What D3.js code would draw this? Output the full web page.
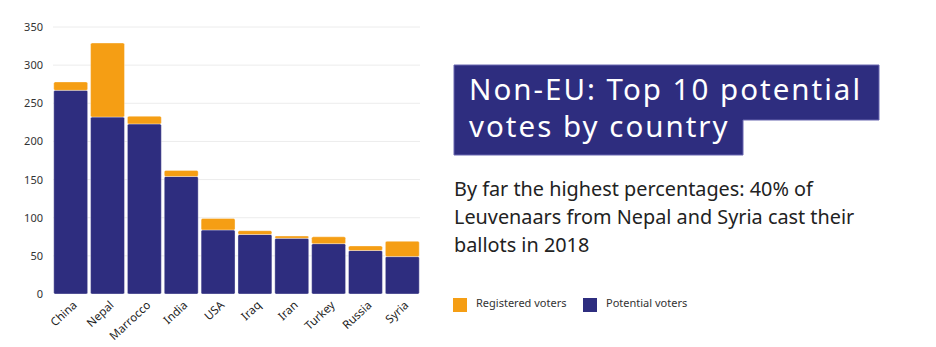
<!DOCTYPE html>
<html>
<head>
<meta charset="utf-8">
<script src="https://cdn.jsdelivr.net/npm/d3@7"></script>
<style>
  body { margin: 0; background: #fff; }
  svg { display: block; font-family: "Noto Sans", sans-serif; }
</style>
</head>
<body>
<script>
// top 10 non-EU countries, potential vs registered voters (2018)
const countries = ['China', 'Nepal', 'Marrocco', 'India', 'USA', 'Iraq', 'Iran', 'Turkey', 'Russia', 'Syria']
const potential = [267, 232, 223, 154, 84, 78, 73, 66, 57, 49]
const registered = [11, 97, 10, 8, 15, 5, 3, 9, 6, 20]
const yTicks = [0, 50, 100, 150, 200, 250, 300, 350]

const blue = '#2e2d7f'
const orange = '#f59e14'
const font = '"Noto Sans", sans-serif'

var width = 936,
    height = 347

var svg = d3.select('body').append('svg')
    .attr('width', width)
    .attr('height', height)

var x = d3.scaleBand()
    .domain(countries)
    .range([53, 420])
    .paddingInner(0.08)
    .paddingOuter(0.02)

var y = d3.scaleLinear()
    .domain([0, 350])
    .range([294, 27])

// gridlines
svg.append('g')
  .selectAll('line')
  .data(yTicks.slice(1))
  .enter().append('line')
    .attr('x1', 53)
    .attr('x2', 420)
    .attr('y1', d => y(d))
    .attr('y2', d => y(d))
    .attr('stroke', '#ececec')
    .attr('stroke-width', 1)

// y axis, labels only
var yAxis = svg.append('g')
    .attr('transform', 'translate(53,0)')
    .call(d3.axisLeft(y).tickValues(yTicks).tickSize(0).tickPadding(10))
yAxis.select('.domain').remove()
yAxis.selectAll('text')
    .attr('font-size', 11)
    .attr('fill', '#333')
    .attr('font-family', font)

var rows = countries.map((c, i) => ({ country: c, potential: potential[i], registered: registered[i] }))
var stacked = d3.stack().keys(['potential', 'registered'])(rows)
var colors = { potential: blue, registered: orange }

var bars = svg.append('g')
bars.selectAll('g')
  .data(stacked)
  .enter().append('g')
    .attr('fill', d => colors[d.key])
  .selectAll('rect')
  .data(d => d)
  .enter().append('rect')
    .attr('x', d => x(d.data.country))
    .attr('y', d => y(d[1]))
    .attr('width', x.bandwidth())
    .attr('height', d => y(d[0]) - y(d[1]))
    .attr('rx', 1.5)
    .attr('stroke', 'rgba(255,255,255,0.35)')
    .attr('stroke-width', 1)

// x axis labels, rotated
var xAxis = svg.append('g')
    .attr('transform', 'translate(0,294)')
    .call(d3.axisBottom(x).tickSize(0).tickPadding(0))
xAxis.select('.domain').remove()
xAxis.selectAll('text')
    .attr('font-size', 11.5)
    .attr('fill', '#222')
    .attr('font-family', font)
    .attr('text-anchor', 'end')
    .attr('dy', null)
    .attr('transform', 'translate(7,12) rotate(-43)')

// size a block of lines so its first line spans the given width
function fitLines(sel, target) {
  var first = sel.node()
  var size = +first.getAttribute('font-size')
  var w = first.getComputedTextLength()
  sel.attr('font-size', size * target / w)
}

// widen the letter spacing instead, keeping the font size
function spreadLines(sel, target) {
  var first = sel.node()
  var n = first.textContent.length
  var w = first.getComputedTextLength()
  sel.attr('letter-spacing', (target - w) / n)
}

// title block
var title = svg.append('g')
title.append('path')
    .attr('d', 'M454,65H879V120H743V155H454Z')
    .attr('fill', blue)
    .attr('stroke', '#6866b0')
    .attr('stroke-width', 1)
var titleText = title.selectAll('text')
  .data(['Non-EU: Top 10 potential', 'votes by country'])
  .enter().append('text')
    .attr('x', 469)
    .attr('y', (d, i) => 100 + i * 37)
    .attr('fill', '#fff')
    .attr('font-size', 29.5)
    .attr('font-family', font)
    .text(d => d)
spreadLines(titleText, 393)

// subtitle
var sub = svg.append('g').selectAll('text')
  .data(['By far the highest percentages: 40% of',
         'Leuvenaars from Nepal and Syria cast their',
         'ballots in 2018'])
  .enter().append('text')
    .attr('x', 454)
    .attr('y', (d, i) => 196 + i * 28)
    .attr('fill', '#222')
    .attr('font-size', 19)
    .attr('font-family', font)
    .text(d => d)
fitLines(sub, 359)

// legend
var legend = svg.append('g')
var items = [
  { label: 'Registered voters', color: orange, x: 453 },
  { label: 'Potential voters', color: blue, x: 583 }
]
legend.selectAll('rect')
  .data(items)
  .enter().append('rect')
    .attr('x', d => d.x)
    .attr('y', 298)
    .attr('width', 14)
    .attr('height', 14)
    .attr('fill', d => d.color)
legend.selectAll('text')
  .data(items)
  .enter().append('text')
    .attr('x', d => d.x + 23)
    .attr('y', 307)
    .attr('fill', '#333')
    .attr('font-size', 11)
    .attr('font-family', font)
    .text(d => d.label)
</script>
</body>
</html>
